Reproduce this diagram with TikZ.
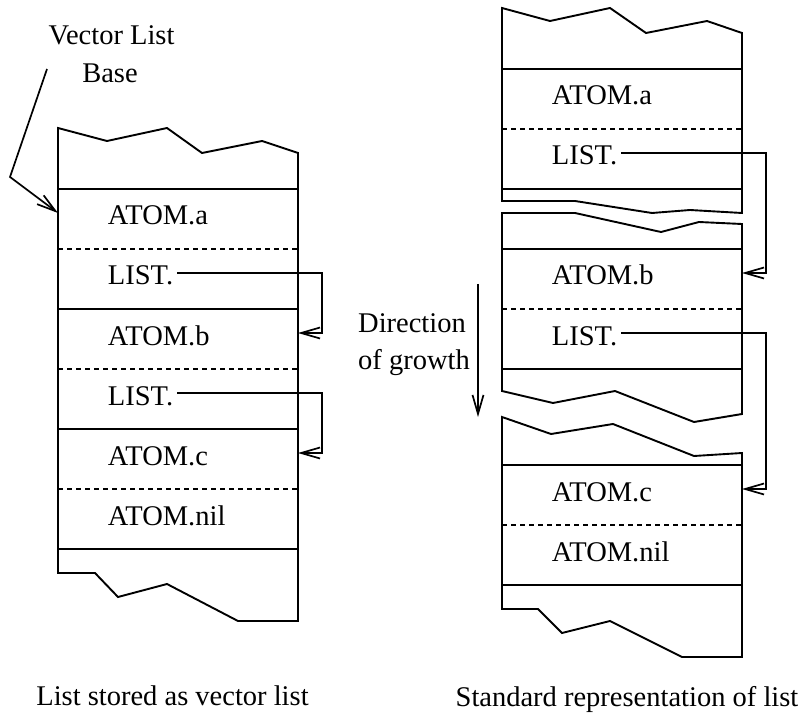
\documentclass[tikz,border=0pt]{standalone}
\usepackage{fontspec}
\setmainfont{Liberation Serif}
\usetikzlibrary{arrows.meta}
\begin{document}
\begin{tikzpicture}[x=1pt,y=-1pt,line width=1.9pt,line join=miter,
  lbl/.style={inner sep=0pt,anchor=base west,font=\fontsize{28.5}{34}\selectfont},
  txt/.style={inner sep=0pt,anchor=base,font=\fontsize{28.5}{34}\selectfont},
  solidsep/.style={line width=1.9pt},
  dashsep/.style={line width=1.6pt,dash pattern=on 5pt off 4pt},
  ptr/.style={line width=1.7pt,-{Straight Barb[length=19pt,width=11pt]}}]
\useasboundingbox (0,0) rectangle (804,714);

% ---------- vector list (left) ----------
\draw (58,128) -- (107,141) -- (167,128) -- (202,153) -- (262,141) -- (298,153)
  -- (298,621) -- (238,621) -- (167,584) -- (118,597) -- (95,573) -- (58,573) -- cycle;
\foreach \y in {189,309,429,549} \draw[solidsep] (58,\y) -- (298,\y);
\foreach \y in {249,369,489} \draw[dashsep] (58,\y) -- (298,\y);

\node[lbl] (La) at (107,225) {ATOM.a};
\node[lbl] (Ll1) at (107,285) {LIST.};
\node[lbl] (Lb) at (107,345) {ATOM.b};
\node[lbl] (Ll2) at (107,405) {LIST.};
\node[lbl] (Lc) at (107,465) {ATOM.c};
\node[lbl] (Lnil) at (107,525) {ATOM.nil};

\coordinate (LtB) at (298,333);
\coordinate (LtC) at (298,453);
\coordinate (LkB) at (322,333);
\coordinate (LkC) at (322,453);
\draw[ptr] ([xshift=3pt,yshift=12pt]Ll1.base east) -| (LkB) -- (LtB);
\draw[ptr] ([xshift=3pt,yshift=12pt]Ll2.base east) -| (LkC) -- (LtC);

% base pointer
\node[txt] (vl1) at (111.5,45) {Vector List};
\node[txt] (vl2) at (110,83) {Base};
\coordinate (vlTail) at (47,69);
\coordinate (vlBend) at (10,177);
\coordinate (vlTip) at (58,213);
\draw[ptr] (vlTail) -- (vlBend) -- (vlTip);

% ---------- standard representation (right) ----------
\draw (502,8) -- (550,21) -- (610,8) -- (646,33) -- (707,21) -- (742,33)
  -- (742,213) -- (690,210) -- (652,213) -- (575,201) -- (502,201) -- cycle;
\draw (502,213) -- (575,213) -- (661,232) -- (699,222) -- (742,224)
  -- (742,414) -- (694,422) -- (615,391) -- (553,403) -- (502,391) -- cycle;
\draw (502,417) -- (551,434) -- (613,424) -- (694,456) -- (742,453)
  -- (742,657) -- (682,657) -- (610,621) -- (562,633) -- (538,609) -- (502,609) -- cycle;
\foreach \y in {69,189,249,369,465,585} \draw[solidsep] (502,\y) -- (742,\y);
\foreach \y in {129,309,525} \draw[dashsep] (502,\y) -- (742,\y);

\node[lbl] (Ra) at (551,105) {ATOM.a};
\node[lbl] (Rl1) at (551,165) {LIST.};
\node[lbl] (Rb) at (551,285) {ATOM.b};
\node[lbl] (Rl2) at (551,345) {LIST.};
\node[lbl] (Rc) at (551,501) {ATOM.c};
\node[lbl] (Rnil) at (551,561) {ATOM.nil};

\coordinate (RtB) at (742,273);
\coordinate (RtC) at (742,489);
\coordinate (RkB) at (766,273);
\coordinate (RkC) at (766,489);
\draw[ptr] ([xshift=3pt,yshift=12pt]Rl1.base east) -| (RkB) -- (RtB);
\draw[ptr] ([xshift=3pt,yshift=12pt]Rl2.base east) -| (RkC) -- (RtC);

% direction of growth
\node[txt] (dir1) at (412,333) {Direction};
\node[txt] (dir2) at (414,370) {of growth};
\coordinate (dirTop) at (478,284);
\coordinate (dirBot) at (478,417);
\draw[ptr] (dirTop) -- (dirBot);

% captions
\node[txt] (capL) at (172.5,705) {List stored as vector list};
\node[txt] (capR) at (627,706) {Standard representation of list};
\end{tikzpicture}
\end{document}
